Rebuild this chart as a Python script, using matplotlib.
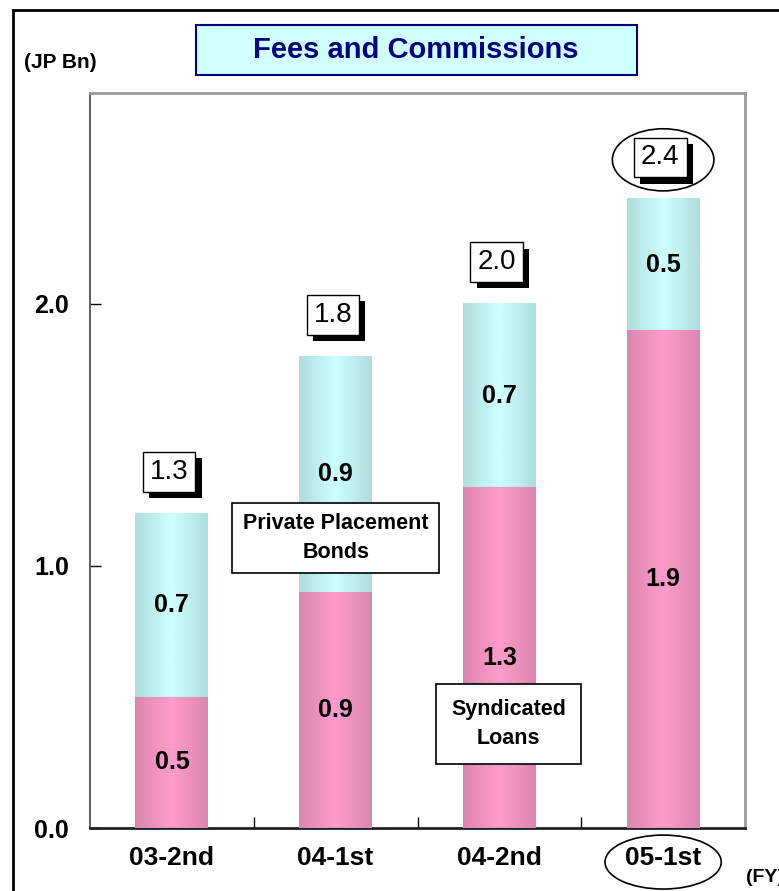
import matplotlib
matplotlib.use("Agg")
import matplotlib.pyplot as plt
import matplotlib.patheffects as pe
import numpy as np
from matplotlib.patches import Ellipse, Rectangle
from matplotlib.colors import LinearSegmentedColormap

# data
periods = ["03-2nd", "04-1st", "04-2nd", "05-1st"]
syndicated = [0.5, 0.9, 1.3, 1.9]
private_placement = [0.7, 0.9, 0.7, 0.5]
total_labels = ["1.3", "1.8", "2.0", "2.4"]
y_ticks = [0.0, 1.0, 2.0]

plt.rcParams['font.family'] = ['Liberation Sans', 'DejaVu Sans']
plt.rcParams['font.weight'] = 'bold'

fig = plt.figure(figsize=(7.79, 8.91), dpi=100)
ax = fig.add_axes([90 / 779, 1 - 828 / 891, 655 / 779, 735 / 891])

x = np.arange(len(periods))
bottoms = ax.bar(x, syndicated, width=0.445, color='#f599c8', zorder=2)
tops = ax.bar(x, private_placement, width=0.445, bottom=syndicated,
              color='#c8fafa', zorder=2)

# horizontal shading on bars: darker at the edges, light in the middle
shade = 1 - np.abs(np.linspace(-1, 1, 64))[None, :]
pink_cmap = LinearSegmentedColormap.from_list('p', ['#db86af', '#ff9bcc'])
cyan_cmap = LinearSegmentedColormap.from_list('c', ['#b0dddd', '#ccffff'])
for bars, cmap in [(bottoms, pink_cmap), (tops, cyan_cmap)]:
    for b in bars:
        x0, y0, w, h = b.get_x(), b.get_y(), b.get_width(), b.get_height()
        ax.imshow(shade, cmap=cmap, extent=(x0, x0 + w, y0, y0 + h),
                  aspect='auto', zorder=3, interpolation='bilinear')

# segment values
for i in range(len(periods)):
    ax.text(x[i], syndicated[i] / 2, f"{syndicated[i]:.1f}", ha='center', va='center',
            fontsize=18, fontweight='bold', zorder=5)
    ax.text(x[i], syndicated[i] + private_placement[i] / 2, f"{private_placement[i]:.1f}",
            ha='center', va='center', fontsize=18, fontweight='bold', zorder=5)

# total labels, boxed with a drop shadow
for i in range(len(periods)):
    top = syndicated[i] + private_placement[i]
    t = ax.annotate(total_labels[i], xy=(x[i], top), xytext=(-2, 30), textcoords='offset points',
                    ha='center', va='center', fontsize=20, fontweight='normal', zorder=7,
                    bbox=dict(boxstyle='square,pad=0.25', fc='white', ec='black', lw=1))
    t.get_bbox_patch().set_path_effects([
        pe.SimplePatchShadow(offset=(4.5, -4.5), shadow_rgbFace='black', alpha=1.0),
        pe.Normal()])

# callout boxes
ax.text(1.0, 1.107, "Private Placement\nBonds", ha='center', va='center', fontsize=15.5,
        fontweight='bold', linespacing=1.45, zorder=8,
        bbox=dict(boxstyle='square,pad=0.5', fc='white', ec='black', lw=1.2))
ax.text(2.055, 0.397, "Syndicated\nLoans", ha='center', va='center', fontsize=15.5,
        fontweight='bold', linespacing=1.45, zorder=8,
        bbox=dict(boxstyle='square,pad=0.7', fc='white', ec='black', lw=1.2))

# circles around latest period
ax.add_patch(Ellipse((3, 2.55), 0.62, 0.237, fill=False, ec='black', lw=1.2,
                     clip_on=False, zorder=8))
ax.add_patch(Ellipse((3, -0.13), 0.71, 0.206, fill=False, ec='black', lw=1.2,
                     clip_on=False, zorder=8))

ax.set_xlim(-0.5, 3.5)
ax.set_ylim(0, 2.805)
ax.set_xticks(x)
ax.set_xticklabels(periods, fontsize=19, fontweight='bold')
ax.set_xticks([0.5, 1.5, 2.5], minor=True)
ax.tick_params(axis='x', which='major', length=0, pad=13)
ax.tick_params(axis='x', which='minor', direction='in', length=8, width=1)
ax.set_yticks(y_ticks)
ax.set_yticklabels([f"{v:.1f}" for v in y_ticks], fontsize=18, fontweight='bold')
ax.tick_params(axis='y', direction='in', length=8, width=1, pad=15)

for s in ['top', 'right']:
    ax.spines[s].set_color('#999999')
    ax.spines[s].set_linewidth(2)
ax.spines['left'].set_color('#444444')
ax.spines['left'].set_linewidth(1.2)
ax.spines['bottom'].set_color('#222222')
ax.spines['bottom'].set_linewidth(2)

# outer frame and title box
fig.patches.append(Rectangle((13 / 779, -0.1), 1.2, 1 - 10 / 891 + 0.1, transform=fig.transFigure,
                             fill=False, ec='black', lw=2))
fig.patches.append(Rectangle((196 / 779, 1 - 75 / 891), 441 / 779, 50 / 891,
                             transform=fig.transFigure, fc='#d0ffff', ec='#000080', lw=1.5))
fig.text(416 / 779, 1 - 50 / 891, "Fees and Commissions", ha='center', va='center',
         fontsize=21, fontweight='bold', color='#000080')
fig.text(60 / 779, 1 - 62 / 891, "(JP Bn)", ha='center', va='center', fontsize=15,
         fontweight='bold')
fig.text(746 / 779, 1 - 878 / 891, "(FY)", ha='left', va='center', fontsize=14,
         fontweight='bold')

plt.savefig('out.png', dpi=100)
plt.close()
